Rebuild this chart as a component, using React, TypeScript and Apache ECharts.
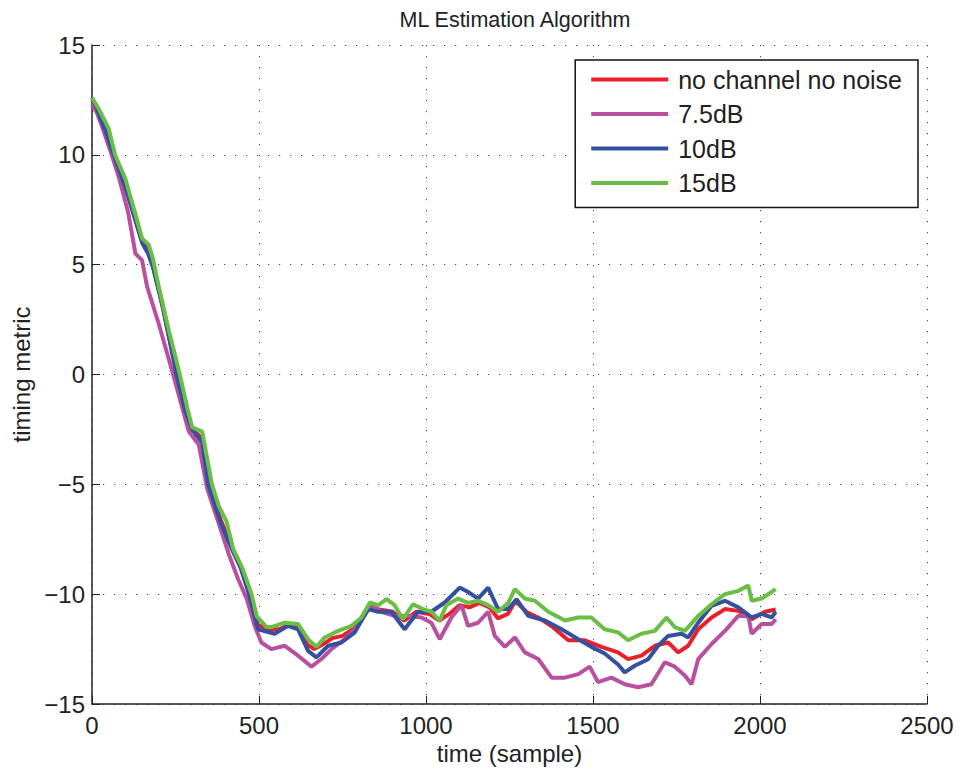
import React, { useEffect, useRef } from "react";
import * as echarts from "echarts";

const seriesNames = ["no channel no noise", "7.5dB", "10dB", "15dB"];
const seriesColors = ["#e8202a", "#b9509f", "#34509e", "#6abd45"];

const noChannel: number[][] = [[0,12.5],[15,12.2],[40,11.3],[66,10],[100,8.6],[130,7.1],[150,6.1],[170,5.6],[185,4.8],[210,3.2],[255,0],[280,-1.6],[300,-2.5],[330,-2.9],[350,-5],[385,-6.6],[420,-7.9],[445,-8.7],[472,-10],[497,-11.4],[530,-11.6],[560,-11.6],[590,-11.4],[620,-11.5],[645,-12.3],[665,-12.5],[690,-12.3],[720,-12.0],[750,-11.9],[790,-11.5],[826,-10.6],[860,-10.7],[900,-10.8],[935,-11.2],[970,-10.8],[1010,-10.9],[1040,-11.2],[1070,-10.9],[1100,-10.5],[1130,-10.6],[1160,-10.4],[1190,-10.6],[1215,-11.1],[1245,-10.9],[1268,-10.3],[1300,-10.8],[1340,-11.1],[1380,-11.5],[1426,-12.1],[1476,-12.1],[1525,-12.4],[1575,-12.65],[1605,-12.96],[1645,-12.8],[1685,-12.35],[1725,-12.2],[1755,-12.65],[1785,-12.35],[1815,-11.6],[1855,-11.06],[1895,-10.68],[1935,-10.76],[1975,-11.14],[2015,-10.8],[2047,-10.7]];

const snr75: number[][] = [[0,12.3],[15,11.9],[30,11.3],[59,10],[80,9.0],[108,7.4],[130,5.5],[150,5.2],[165,4.0],[200,2.3],[243,0],[270,-1.5],[290,-2.6],[320,-3.2],[345,-5.2],[380,-6.8],[410,-8.2],[437,-9.3],[463,-10.2],[487,-11.44],[507,-12.2],[537,-12.5],[577,-12.35],[617,-12.8],[657,-13.3],[687,-12.95],[717,-12.5],[757,-12.05],[797,-11.44],[836,-10.5],[866,-10.8],[906,-10.99],[946,-10.99],[986,-11.06],[1016,-11.3],[1041,-12.05],[1076,-11.06],[1106,-10.5],[1126,-11.44],[1156,-11.3],[1186,-10.8],[1206,-11.9],[1236,-12.4],[1266,-11.97],[1296,-12.65],[1336,-12.95],[1376,-13.8],[1416,-13.8],[1456,-13.64],[1490,-13.3],[1515,-14.0],[1555,-13.8],[1595,-14.1],[1635,-14.24],[1675,-14.1],[1715,-13.1],[1745,-13.3],[1775,-13.7],[1795,-14.1],[1815,-12.96],[1855,-12.27],[1895,-11.67],[1935,-10.99],[1965,-10.99],[1975,-11.8],[2005,-11.36],[2035,-11.36],[2047,-11.14]];

const snr10: number[][] = [[0,12.6],[15,12.1],[40,11.1],[65,10],[100,8.5],[130,7.0],[150,6.0],[168,5.5],[182,4.9],[210,3.2],[253,0],[280,-1.7],[300,-2.5],[330,-3.1],[348,-5],[384,-6.7],[420,-8.0],[445,-8.8],[470,-10],[497,-11.6],[547,-11.8],[587,-11.44],[617,-11.6],[647,-12.58],[672,-12.88],[707,-12.35],[747,-12.2],[787,-11.74],[826,-10.68],[857,-10.8],[896,-10.8],[936,-11.6],[976,-10.8],[1016,-10.8],[1056,-10.38],[1101,-9.7],[1126,-9.9],[1156,-10.2],[1186,-9.7],[1216,-10.68],[1246,-10.68],[1271,-10.23],[1306,-10.99],[1356,-11.2],[1406,-11.6],[1456,-12.05],[1495,-12.4],[1535,-12.7],[1575,-13.2],[1595,-13.56],[1625,-13.26],[1665,-12.96],[1695,-12.35],[1725,-11.9],[1765,-11.8],[1785,-11.97],[1815,-11.3],[1855,-10.53],[1895,-10.3],[1935,-10.6],[1975,-11.06],[2005,-10.9],[2035,-11.06],[2047,-10.8]];

const snr15: number[][] = [[0,12.6],[20,12.1],[50,11.2],[69,10],[100,8.9],[130,7.3],[150,6.2],[170,5.9],[182,5.3],[200,4.0],[230,2.0],[263,0],[285,-1.5],[300,-2.4],[330,-2.6],[359,-5],[380,-6.0],[403,-6.7],[423,-7.95],[450,-8.8],[478,-10],[493,-11.0],[523,-11.5],[537,-11.5],[577,-11.3],[617,-11.36],[647,-12.05],[672,-12.4],[697,-11.97],[737,-11.67],[777,-11.44],[807,-11.06],[832,-10.38],[857,-10.5],[882,-10.23],[906,-10.5],[931,-11.14],[961,-10.46],[991,-10.68],[1016,-10.8],[1041,-11.2],[1061,-10.5],[1096,-10.2],[1126,-10.4],[1156,-10.3],[1186,-10.5],[1216,-10.8],[1246,-10.4],[1266,-9.77],[1296,-10.2],[1326,-10.3],[1366,-10.8],[1416,-11.2],[1456,-11.06],[1495,-11.06],[1535,-11.6],[1575,-11.74],[1605,-12.1],[1645,-11.8],[1685,-11.67],[1720,-11.06],[1745,-11.5],[1775,-11.67],[1815,-10.99],[1855,-10.46],[1895,-10.0],[1935,-9.85],[1965,-9.6],[1975,-10.3],[2005,-10.2],[2035,-9.9],[2047,-9.77]];

const allData = [noChannel, snr75, snr10, snr15];
const FONT = "Liberation Sans";

export default function App() {
  const ref = useRef<HTMLDivElement>(null);
  useEffect(() => {
    if (!ref.current) return;
    const chart = echarts.init(ref.current, null, { renderer: "svg" });
    const gridLine = { show: true, lineStyle: { color: "#444", width: 1, type: [1.2, 9.8] } };
    chart.setOption({
      animation: false,
      backgroundColor: "#fff",
      title: {
        text: "ML Estimation Algorithm",
        left: 510,
        textAlign: "center",
        top: 4,
        textStyle: { fontFamily: FONT, fontSize: 21.5, fontWeight: "normal", color: "#222" },
      },
      legend: {
        orient: "vertical",
        right: 46,
        top: 60,
        data: seriesNames,
        icon: "rect",
        itemWidth: 77,
        itemHeight: 4,
        itemGap: 9.5,
        padding: [7, 16, 12, 16],
        borderColor: "#111",
        borderWidth: 1.5,
        backgroundColor: "#fff",
        textStyle: { fontFamily: FONT, fontSize: 25, color: "#222", padding: [0, 0, 0, 5] },
      },
      grid: { left: 92, right: 37, top: 45, bottom: 71, containLabel: false, outerBoundsMode: "none" },
      xAxis: {
        type: "value",
        min: 0,
        max: 2500,
        interval: 500,
        name: "time (sample)",
        nameLocation: "middle",
        nameGap: 33,
        nameTextStyle: { fontFamily: FONT, fontSize: 24, color: "#222" },
        axisLine: { show: true, onZero: false, lineStyle: { color: "#222", width: 1.5 } },
        axisTick: { show: true, inside: true, length: 8, lineStyle: { color: "#222" } },
        axisLabel: {
          fontFamily: FONT,
          fontSize: 24,
          color: "#222",
          margin: 9,
          formatter: (v: number) => String(v),
        },
        splitLine: gridLine,
      },
      yAxis: {
        type: "value",
        min: -15,
        max: 15,
        interval: 5,
        name: "timing metric",
        nameLocation: "middle",
        nameGap: 41,
        nameTextStyle: { fontFamily: FONT, fontSize: 24, color: "#222" },
        axisLine: { show: true, onZero: false, lineStyle: { color: "#222", width: 1.5 } },
        axisTick: { show: true, inside: true, length: 8, lineStyle: { color: "#222" } },
        axisLabel: {
          fontFamily: FONT,
          fontSize: 24,
          color: "#222",
          margin: 7,
          formatter: (v: number) => String(v).replace("-", "\u2212"),
        },
        splitLine: gridLine,
      },
      series: allData.map((d, i) => ({
        name: seriesNames[i],
        type: "line",
        data: d,
        showSymbol: false,
        symbol: "none",
        color: seriesColors[i],
        lineStyle: { color: seriesColors[i], width: 4 },
        itemStyle: { color: seriesColors[i] },
      })),
    });
    return () => chart.dispose();
  }, []);
  return (
    <div
      ref={ref}
      style={{ position: "absolute", left: 0, top: 0, width: 964, height: 775 }}
    />
  );
}
